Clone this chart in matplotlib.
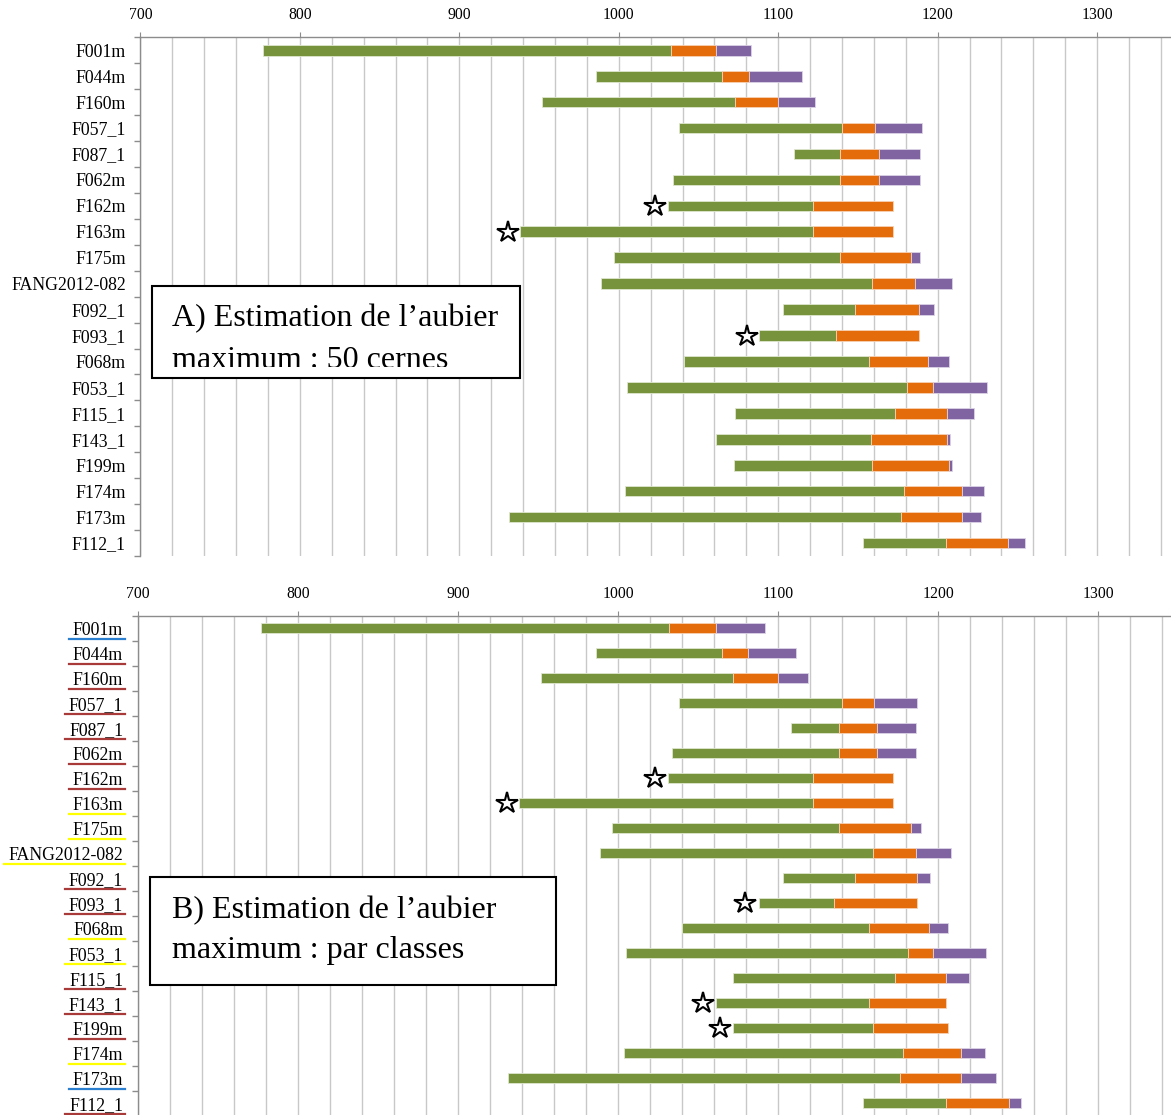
import matplotlib
matplotlib.use('Agg')
import matplotlib.pyplot as plt
import numpy as np
from matplotlib.patches import Rectangle
from matplotlib.lines import Line2D
from matplotlib.ticker import MultipleLocator, FixedLocator

plt.rcParams['font.family'] = ['Liberation Serif', 'DejaVu Serif']

# ---------------- data ----------------
samples = ['F001m', 'F044m', 'F160m', 'F057_1', 'F087_1', 'F062m', 'F162m', 'F163m',
           'F175m', 'FANG2012-082', 'F092_1', 'F093_1', 'F068m', 'F053_1', 'F115_1',
           'F143_1', 'F199m', 'F174m', 'F173m', 'F112_1']

# Panel A: maximum sapwood = 50 rings
a_start = [777, 986, 952, 1038, 1110, 1034, 1031, 938, 997, 989,
           1103, 1088, 1041, 1005, 1073, 1061, 1072, 1004, 931, 1153]
a_heart_end = [1033, 1065, 1073, 1140, 1139, 1139, 1122, 1122, 1139, 1159,
               1148, 1136, 1157, 1181, 1173, 1158, 1159, 1179, 1177, 1205]
a_sap_min_end = [1061, 1082, 1100, 1161, 1163, 1163, 1172, 1172, 1183, 1186,
                 1188, 1188, 1194, 1197, 1206, 1206, 1207, 1215, 1215, 1244]
a_sap_max_end = [1083, 1115, 1123, 1190, 1189, 1189, 1172, 1172, 1189, 1209,
                 1198, 1188, 1207, 1231, 1223, 1208, 1209, 1229, 1227, 1255]
a_star_samples = ['F162m', 'F163m', 'F093_1']
a_star_years = [1022.5, 930.7, 1080.4]

# Panel B: maximum sapwood by classes
b_start = [777, 986, 952, 1038, 1108, 1034, 1031, 938, 996, 989,
           1103, 1088, 1040, 1005, 1072, 1061, 1072, 1004, 931, 1153]
b_heart_end = [1032, 1065, 1072, 1140, 1138, 1138, 1122, 1122, 1138, 1159,
               1148, 1135, 1157, 1181, 1173, 1157, 1159, 1178, 1176, 1205]
b_sap_min_end = [1061, 1081, 1100, 1160, 1162, 1162, 1172, 1172, 1183, 1186,
                 1187, 1187, 1194, 1197, 1205, 1205, 1206, 1214, 1214, 1244]
b_sap_max_end = [1092, 1111, 1119, 1187, 1186, 1186, 1172, 1172, 1189, 1208,
                 1195, 1187, 1206, 1230, 1219, 1205, 1206, 1229, 1236, 1252]
b_star_samples = ['F162m', 'F163m', 'F093_1', 'F143_1', 'F199m']
b_star_years = [1023.0, 930.7, 1079.6, 1053.4, 1063.6]
b_classes = ['blue', 'red', 'red', 'red', 'red', 'red', 'red', 'yellow', 'yellow', 'yellow',
             'red', 'red', 'yellow', 'yellow', 'red', 'red', 'red', 'yellow', 'blue', 'red']

# ---------------- style ----------------
W, H = 1171, 1115
GREEN, ORANGE, PURPLE = '#77933C', '#E46C0A', '#8064A2'
CLASS_COLORS = {'blue': '#2b7fd0', 'red': '#a83a3a', 'yellow': '#ffff00'}
GRID = '#c8c8c8'
AXC = '#8c8c8c'

fig = plt.figure(figsize=(W / 100, H / 100), dpi=100)


def fx(x):
    return x / W


def fy(y):
    return 1 - y / H


def draw_panel(ax, start, heart_end, smin_end, smax_end, star_samples, star_years, xmax, bar_h):
    n = len(samples)
    y = np.arange(n)
    start = np.array(start, float)
    he = np.array(heart_end, float)
    s1 = np.array(smin_end, float)
    s2 = np.array(smax_end, float)
    ax.barh(y, he - start, left=start, height=bar_h, color=GREEN, edgecolor='#dfe6cf',
            linewidth=0.6, zorder=3)
    ax.barh(y, s1 - he, left=he, height=bar_h, color=ORANGE, edgecolor='#f6d2b4',
            linewidth=0.6, zorder=3)
    m = (s2 - s1) > 0
    ax.barh(y[m], (s2 - s1)[m], left=s1[m], height=bar_h, color=PURPLE, edgecolor='#dcd3e6',
            linewidth=0.6, zorder=3)
    sy = [samples.index(s) for s in star_samples]
    ax.plot(star_years, sy, linestyle='none', marker='*', ms=16, mfc='white', mec='black',
            mew=1.5, zorder=5, clip_on=False)

    ax.set_xlim(700, xmax)
    ax.set_ylim(n - 0.5, -0.5)
    ax.set_yticks(y)
    ax.set_yticklabels(samples, fontsize=12.8)
    ax.yaxis.set_minor_locator(FixedLocator(np.arange(-0.5, n, 1.0)))
    ax.tick_params(axis='y', which='major', length=0, pad=10.5)
    ax.tick_params(axis='y', which='minor', length=4, color=AXC, width=1)

    ax.xaxis.set_major_locator(MultipleLocator(100))
    ax.xaxis.set_minor_locator(MultipleLocator(20))
    ax.tick_params(axis='x', which='major', top=True, bottom=False, labeltop=True,
                   labelbottom=False, length=3.5, color=AXC, labelsize=11.3, pad=6.5)
    ax.tick_params(axis='x', which='minor', top=False, bottom=False, length=0)
    ax.grid(True, axis='x', which='both', color=GRID, linewidth=1.0, zorder=0)
    ax.set_axisbelow(True)
    for s in ['right', 'bottom']:
        ax.spines[s].set_visible(False)
    for s in ['top', 'left']:
        ax.spines[s].set_color(AXC)
        ax.spines[s].set_linewidth(1.0)


# top panel
axA = fig.add_axes([fx(140.4), fy(556.0), 1 - fx(140.4), (556.0 - 37.3) / H])
draw_panel(axA, a_start, a_heart_end, a_sap_min_end, a_sap_max_end,
           a_star_samples, a_star_years, 700 + (W - 140.4) / 1.5945, 0.41)

# bottom panel
axB = fig.add_axes([fx(137.8), fy(1115.7), 1 - fx(137.8), (1115.7 - 615.7) / H])
draw_panel(axB, b_start, b_heart_end, b_sap_min_end, b_sap_max_end,
           b_star_samples, b_star_years, 700 + (W - 137.8) / 1.6007, 0.40)


def text_box(x0, y0, x1, y1, lines, tx, baselines, clip_y):
    rect = Rectangle((fx(x0), fy(y1)), fx(x1) - fx(x0), fy(y0) - fy(y1),
                     transform=fig.transFigure, facecolor='white', edgecolor='black',
                     linewidth=1.5, zorder=10)
    fig.add_artist(rect)
    clip = Rectangle((fx(x0), fy(clip_y)), fx(x1) - fx(x0), fy(y0) - fy(clip_y),
                     transform=fig.transFigure, facecolor='none', edgecolor='none')
    for line, b in zip(lines, baselines):
        t = fig.text(fx(tx), fy(b), line, fontsize=23, va='baseline', ha='left',
                     zorder=11)
        t.set_clip_path(clip)


text_box(151.7, 286.0, 520.0, 378.3,
         ['A) Estimation de l\u2019aubier', 'maximum : 50 cernes'],
         171.7, [326.7, 367.5], 366.8)
text_box(150.4, 876.7, 556.0, 985.3,
         ['B) Estimation de l\u2019aubier', 'maximum : par classes'],
         172.0, [918.3, 958.3], 985.3)

# coloured underlines of panel B labels
fig.canvas.draw()
renderer = fig.canvas.get_renderer()
for i, lbl in enumerate(axB.get_yticklabels()):
    bb = lbl.get_window_extent(renderer)
    yc = axB.transData.transform((700, i))[1]
    yl = yc - 11.0
    ln = Line2D([bb.x0 - 4, bb.x1 + 1.5], [yl, yl], color=CLASS_COLORS[b_classes[i]],
                linewidth=1.6)
    ln.set_transform(matplotlib.transforms.IdentityTransform())
    fig.add_artist(ln)

fig.savefig('out.png', dpi=100)
